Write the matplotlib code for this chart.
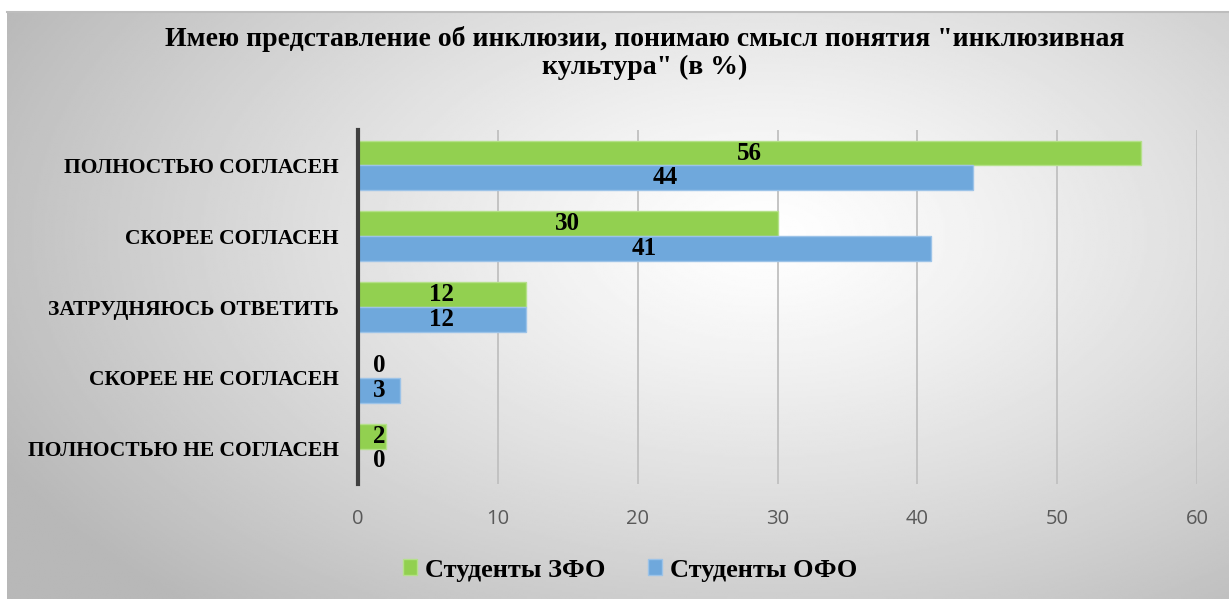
import numpy as np
import matplotlib
matplotlib.use("Agg")
import matplotlib.pyplot as plt
from matplotlib.patches import Patch

categories = ["ПОЛНОСТЬЮ СОГЛАСЕН", "СКОРЕЕ СОГЛАСЕН", "ЗАТРУДНЯЮСЬ ОТВЕТИТЬ",
              "СКОРЕЕ НЕ СОГЛАСЕН", "ПОЛНОСТЬЮ НЕ СОГЛАСЕН"]
zfo = [56, 30, 12, 0, 2]
ofo = [44, 41, 12, 3, 0]
series_names = ["Студенты ЗФО", "Студенты ОФО"]
xticks = [0, 10, 20, 30, 40, 50, 60]
title = 'Имею представление об инклюзии, понимаю смысл понятия "инклюзивная\nкультура" (в %)'

W, H = 1229, 599
fig = plt.figure(figsize=(W / 100, H / 100), dpi=100)
fig.patch.set_facecolor("white")

# radial gradient background
bx0, by0 = 7 / W, 0
bw, bh = (W - 7) / W, (H - 12) / H
bg = fig.add_axes([bx0, by0, bw, bh], zorder=-10)
nx, ny = 600, 300
xx, yy = np.meshgrid(np.linspace(0, 1, nx), np.linspace(0, 1, ny))
cx, cy = 0.62, 0.38  # centre (y from top)
d = np.sqrt(((xx - cx) / 0.62) ** 2 + ((yy - cy) / 0.75) ** 2)
d = np.clip(d, 0, 1.3)
val = 1 - 0.24 * d ** 1.2
val = np.clip(val, 0.72, 1)
bg.imshow(val, cmap="gray", vmin=0, vmax=1, aspect="auto", extent=[0, 1, 0, 1], origin="upper")
bg.set_xlim(0, 1); bg.set_ylim(0, 1)
bg.axis("off")
fig.add_artist(plt.Line2D([bx0, 1], [by0 + bh, by0 + bh], color="#bdbdbd", lw=1.5, transform=fig.transFigure))

serif = ["Liberation Serif", "DejaVu Serif"]

ax = fig.add_axes([358 / W, 1 - 484 / H, (1197 - 358) / W, (484 - 130) / H])
ax.patch.set_alpha(0)
y = np.arange(len(categories))
h = 0.35
green = "#92d050"
blue = "#6fa8dc"
ax.barh(y - h / 2, zfo, height=h, color=green, edgecolor="#b5e08a", linewidth=1, zorder=3)
ax.barh(y + h / 2, ofo, height=h, color=blue, edgecolor="#9cc3e8", linewidth=1, zorder=3)

for yi, v in zip(y, zfo):
    ax.text(max(v / 2, 1.55), yi - h / 2, str(v), ha="center", va="center",
            fontsize=18, fontweight="bold", family=serif, zorder=5)
for yi, v in zip(y, ofo):
    ax.text(max(v / 2, 1.55), yi + h / 2, str(v), ha="center", va="center",
            fontsize=18, fontweight="bold", family=serif, zorder=5)

ax.set_xlim(0, 60)
ax.set_ylim(len(categories) - 0.5, -0.5)
ax.set_xticks(xticks)
ax.set_xticklabels([str(t) for t in xticks], fontsize=14.5, color="#595959", family=["Open Sans", "DejaVu Sans"])
ax.tick_params(axis="x", length=0, pad=18)
ax.set_yticks(y)
ax.set_yticklabels(categories, fontsize=15.5, fontweight="bold", family=serif)
ax.tick_params(axis="y", length=0, pad=14)
ax.grid(axis="x", color="#c0c0c0", linewidth=1.3, zorder=0)
for s in ["top", "right", "bottom"]:
    ax.spines[s].set_visible(False)
ax.spines["left"].set_color("#404040")
ax.spines["left"].set_linewidth(3)
ax.spines["left"].set_zorder(6)

fig.text(645 / W, 1 - 53 / H, title, ha="center", va="center", fontsize=20,
         fontweight="bold", family=serif, linespacing=1.2)

handles = [Patch(facecolor=green, edgecolor="#b5e08a"), Patch(facecolor=blue, edgecolor="#9cc3e8")]
fig.legend(handles, series_names, loc="center", bbox_to_anchor=(630 / W, 1 - 570 / H), ncol=2,
           frameon=False, prop={"family": serif, "weight": "bold", "size": 19},
           handlelength=0.55, handleheight=0.55, handletextpad=0.3, columnspacing=1.6)

fig.savefig("out.png", dpi=100)
